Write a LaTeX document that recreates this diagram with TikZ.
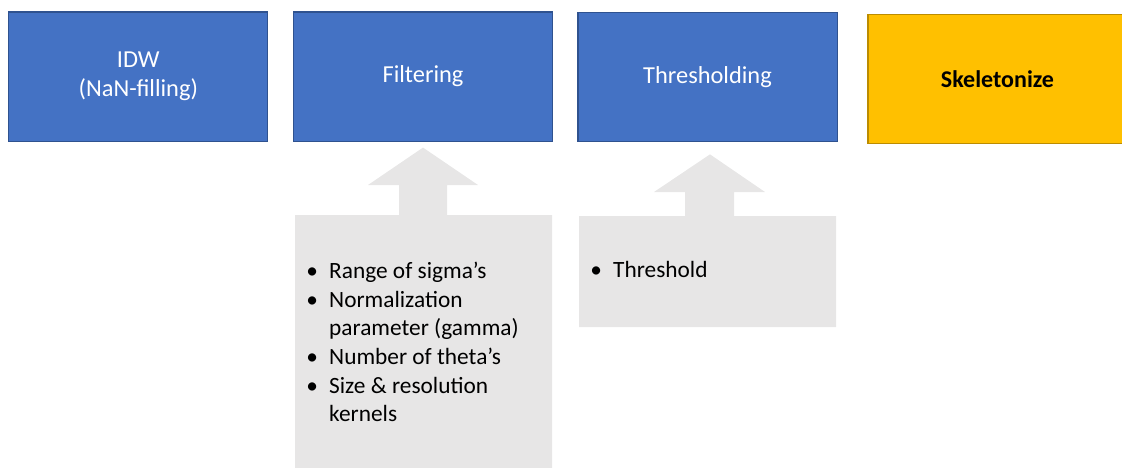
\documentclass[tikz,border=0pt]{standalone}
\usepackage{fontspec}
\setmainfont{Carlito}
\usetikzlibrary{calc}

\definecolor{stepblue}{HTML}{4472C4}
\definecolor{stepblueline}{HTML}{2F528F}
\definecolor{stepgold}{HTML}{FFC000}
\definecolor{stepgoldline}{HTML}{BC8C00}
\definecolor{paramgray}{HTML}{E7E6E6}

\tikzset{
  txt/.style={font=\fontsize{17.5}{21.5}\selectfont},
  stagebox/.style={rectangle, line width=0.8pt, inner sep=0pt,
    minimum width=194.3pt, minimum height=96.8pt, align=center,
    font=\fontsize{18.3}{21.8}\selectfont},
  bluestage/.style={stagebox, fill=stepblue, draw=stepblueline, text=white},
  goldstage/.style={stagebox, fill=stepgold, draw=stepgoldline, text=black,
    font=\fontsize{18}{21.8}\selectfont\bfseries},
  paramfill/.style={fill=paramgray, draw=none},
  paramtext/.style={txt, inner sep=0pt, anchor=base west, align=left, text=black},
}
\newcommand{\bul}{\makebox[17.2pt][l]{\textbullet}}
\newcommand{\cont}{\hspace*{17.2pt}}

\begin{document}
\begin{tikzpicture}[x=0.75pt, y=-0.75pt]
  \useasboundingbox (0,0) rectangle (1122,468);
  \clip (0,0) rectangle (1122,468);

  % processing stages
  \node[bluestage] (idw)  at (138.3,76.5) {IDW\\(NaN-filling)};
  \node[bluestage] (filt) at (423,76.5)   {Filtering};
  \node[bluestage] (thr)  at (707.5,77.3) {Thresholding};
  \node[goldstage] (skel) at (997.5,78.7) {Skeletonize};

  % parameter callout of the filtering stage (y grows downwards)
  \coordinate (ftip) at ($(filt.south)+(0,6)$);
  \fill[paramfill] (295,215) -- (399,215) -- (399,185) -- (368,185)
    -- (ftip) -- (478,185) -- (447,185) -- (447,215) -- (552,215)
    -- (552,472) -- (295,472) -- cycle;
  % the node's base is the baseline of its last line
  \node[paramtext] (fpar) at (306,421.7) {%
    \bul Range of sigma’s\\
    \bul Normalization\\
    \cont parameter (gamma)\\
    \bul Number of theta’s\\
    \bul Size \& resolution\\
    \cont kernels};

  % parameter callout of the thresholding stage
  \coordinate (ttip) at ($(thr.south)+(2.5,12)$);
  \fill[paramfill] (579,216) -- (685,216) -- (685,192) -- (654,192)
    -- (ttip) -- (765,192) -- (734,192) -- (734,216) -- (836,216)
    -- (836,327) -- (579,327) -- cycle;
  \node[paramtext] (tpar) at (590,277) {\bul Threshold};
\end{tikzpicture}
\end{document}
